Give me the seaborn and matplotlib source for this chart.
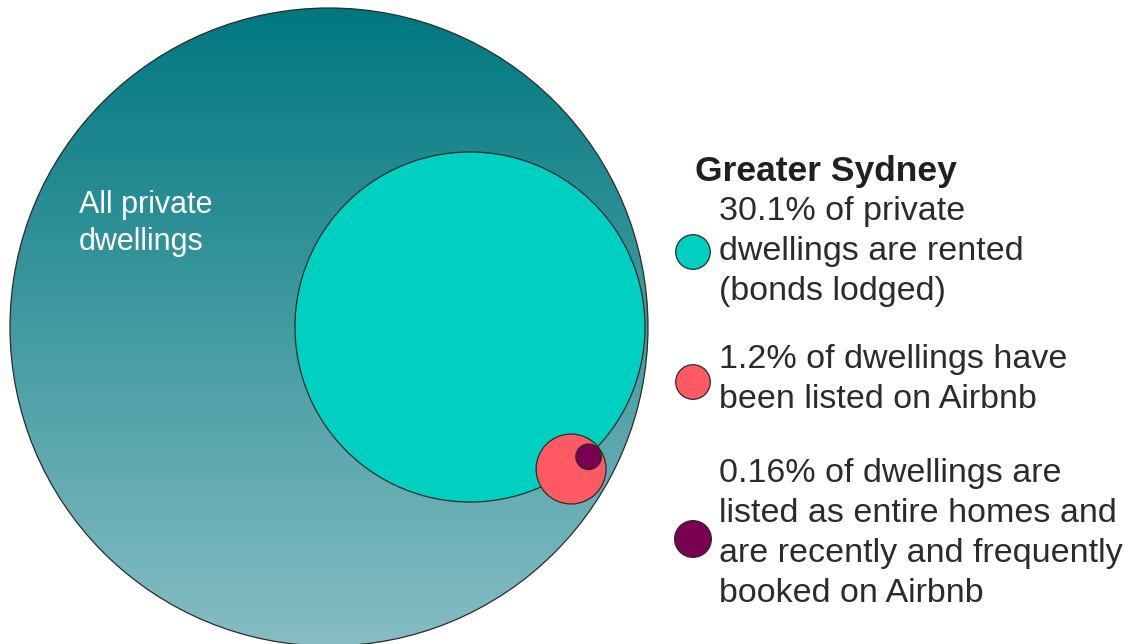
import matplotlib
matplotlib.use("Agg")
import matplotlib.pyplot as plt
from matplotlib.patches import Circle
import numpy as np
import pandas as pd
import seaborn as sns

# nested shares of Greater Sydney private dwellings (percent)
groups = ["All private dwellings", "Rented (bonds lodged)", "Listed on Airbnb", "Entire homes, frequently booked"]
shares = [100.0, 30.1, 1.2, 0.16]
colors = ["#007880", "#00d0c0", "#ff5a64", "#7a0050"]
# which circle each one sits inside, and the angle (deg, clockwise from east) where it touches it
parent = [None, 0, 0, 2]
touch_angle = [0, 0, 30.4, -35]

title = "Greater Sydney"
legend_texts = [
    ["30.1% of private", "dwellings are rented", "(bonds lodged)"],
    ["1.2% of dwellings have", "been listed on Airbnb"],
    ["0.16% of dwellings are", "listed as entire homes and",
     "are recently and frequently", "booked on Airbnb"],
]
outer_label = ["All private", "dwellings"]

sns.set_theme(style="white")
plt.rcParams["font.family"] = ["Liberation Sans", "DejaVu Sans"]

W, H = 1147, 644
fig = plt.figure(figsize=(W / 100, H / 100), dpi=100)
ax = fig.add_axes([0, 0, 1, 1])
ax.set_xlim(0, W)
ax.set_ylim(H, 0)
ax.set_aspect("equal")
ax.axis("off")

# circles: area proportional to share, each touching the inside of its parent
R0 = 319.0
cx, cy = 329.0, 327.0
radii = [R0 * np.sqrt(s / shares[0]) for s in shares]
gaps = [0, 3.0, 3.4, 0.8]
centers = [(cx, cy)]
for i in range(1, len(shares)):
    p = parent[i]
    px, py = centers[p]
    d = radii[p] - radii[i] - gaps[i]
    a = np.deg2rad(touch_angle[i])
    centers.append((px + d * np.cos(a), py + d * np.sin(a)))

edge = "#2b2b2b"
# outer circle with vertical gradient
ax.add_patch(Circle(centers[0], radii[0], facecolor="none", edgecolor=edge, lw=0.9, zorder=3))
top = np.array([0, 120, 128]) / 255
bot = np.array([134, 189, 195]) / 255
t = np.linspace(0, 1, 256)[:, None]
grad = (top * (1 - t) + bot * t)[:, None, :]
im = ax.imshow(grad, extent=[cx - R0, cx + R0, cy + R0, cy - R0], aspect="auto",
               interpolation="bilinear", zorder=1)
im.set_clip_path(Circle(centers[0], radii[0], transform=ax.transData))

for i in range(1, len(shares)):
    ax.add_patch(Circle(centers[i], radii[i], facecolor=colors[i], edgecolor=edge,
                        lw=0.9, zorder=3 + i))

for k, line in enumerate(outer_label):
    ax.text(79, 213 + k * 37, line, color="white", fontsize=22, va="baseline",
            ha="left", zorder=10)

# legend
ax.text(695, 181, title, fontsize=25.5, fontweight="bold", color="#231f20",
        va="baseline", ha="left")
baselines = [220, 368, 482]
step = 40
for lines, y0 in zip(legend_texts, baselines):
    for k, line in enumerate(lines):
        ax.text(719, y0 + k * step, line, fontsize=24.5, color="#2d2a2b",
                va="baseline", ha="left")

leg = pd.DataFrame({"x": [693, 693, 693], "y": [252, 382, 539], "group": groups[1:]})
sns.scatterplot(data=leg, x="x", y="y", hue="group", palette=colors[1:], s=[620, 620, 700],
                edgecolor=edge, linewidth=0.9, legend=False, ax=ax, zorder=10)
ax.set_xlim(0, W)
ax.set_ylim(H, 0)

fig.savefig("out.png", dpi=100)
